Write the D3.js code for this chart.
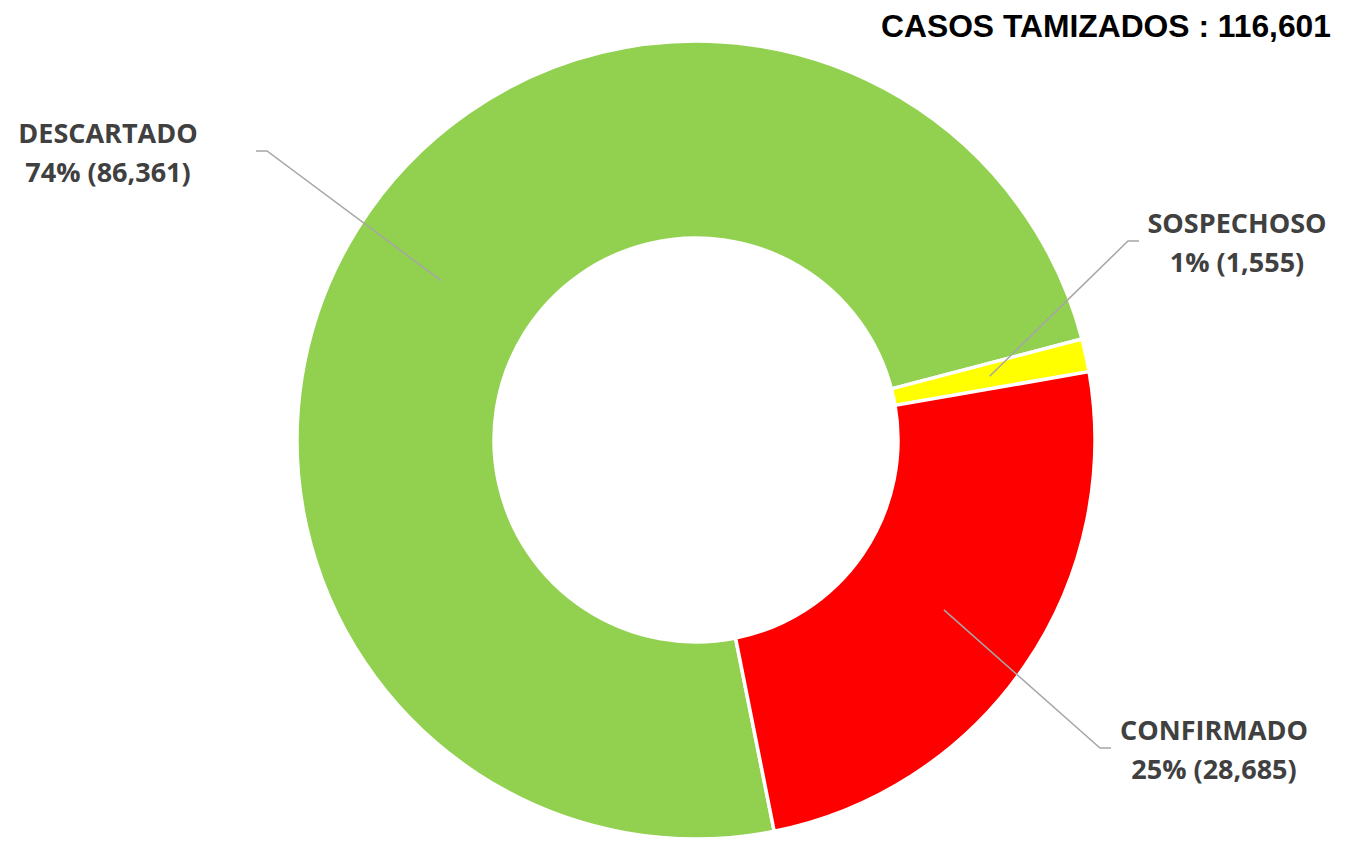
<!DOCTYPE html>
<html>
<head>
<meta charset="utf-8">
<script src="https://cdn.jsdelivr.net/npm/d3@7"></script>
<style>
	body { margin: 0; background: #fff; }
	svg { display: block; }
</style>
</head>
<body>
<svg class="canvas" width="1357" height="843"></svg>
<script>

// data
var categories = ['DESCARTADO', 'SOSPECHOSO', 'CONFIRMADO'];
var values = [86361, 1555, 28685];
var total_label = 'CASOS TAMIZADOS : ';

// styling / layout
var colors = ['#92d050', '#ffff00', '#ff0000'];
// where each label sits: elbow of the leader line, horizontal stub, text centre
var label_layout = [
	{ ex: 267, ey: 151, stub: -11, tx: 108, ty: 143 },
	{ ex: 1128, ey: 241, stub: 11, tx: 1237, ty: 233 },
	{ ex: 1100, ey: 748, stub: 11, tx: 1214, ty: 740 }
];

var svg = d3.select('.canvas');
var cx = 696, cy = 440;
var outer_r = 399, inner_r = 202;
var start = 168.7 * Math.PI / 180;

var total = d3.sum(values);
var fmt = d3.format(',');

var pie = d3.pie()
	.sort(null)
	.startAngle(start)
	.endAngle(start + 2 * Math.PI);

var arc = d3.arc()
	.innerRadius(inner_r)
	.outerRadius(outer_r);

var mid_arc = d3.arc()
	.innerRadius((inner_r + outer_r) / 2)
	.outerRadius((inner_r + outer_r) / 2);

var arcs = pie(values);

var chart = svg.append('g')
	.attr('transform', 'translate(' + cx + ',' + cy + ')');

chart.selectAll('path.slice')
	.data(arcs)
	.enter().append('path')
	.attr('class', 'slice')
	.attr('d', arc)
	.attr('fill', function(d, i) { return colors[i]; })
	.attr('stroke', '#fff')
	.attr('stroke-width', 3.5)
	.attr('stroke-linejoin', 'round');

// leader lines
svg.selectAll('polyline.leader')
	.data(arcs)
	.enter().append('polyline')
	.attr('class', 'leader')
	.attr('fill', 'none')
	.attr('stroke', '#a6a6a6')
	.attr('stroke-width', 1.5)
	.attr('points', function(d, i) {
		var c = mid_arc.centroid(d);
		var l = label_layout[i];
		return [[c[0] + cx, c[1] + cy], [l.ex, l.ey], [l.ex + l.stub, l.ey]].join(' ');
	});

// labels
var labels = svg.selectAll('text.label')
	.data(arcs)
	.enter().append('text')
	.attr('class', 'label')
	.attr('text-anchor', 'middle')
	.attr('fill', '#404040')
	.style('font-family', '"Open Sans", sans-serif')
	.style('font-weight', 'bold')
	.style('font-size', '27px');

labels.append('tspan')
	.attr('x', function(d, i) { return label_layout[i].tx; })
	.attr('y', function(d, i) { return label_layout[i].ty; })
	.text(function(d, i) { return categories[i]; });

labels.append('tspan')
	.attr('x', function(d, i) { return label_layout[i].tx; })
	.attr('y', function(d, i) { return label_layout[i].ty + 39; })
	.text(function(d, i) { return Math.round(values[i] / total * 100) + '% (' + fmt(values[i]) + ')'; });

// title
svg.append('text')
	.attr('x', 1331)
	.attr('y', 37)
	.attr('text-anchor', 'end')
	.attr('fill', '#000')
	.style('font-family', '"Liberation Sans", Arial, sans-serif')
	.style('font-weight', 'bold')
	.style('font-size', '31.8px')
	.text(total_label + fmt(total));

</script>
</body>
</html>
